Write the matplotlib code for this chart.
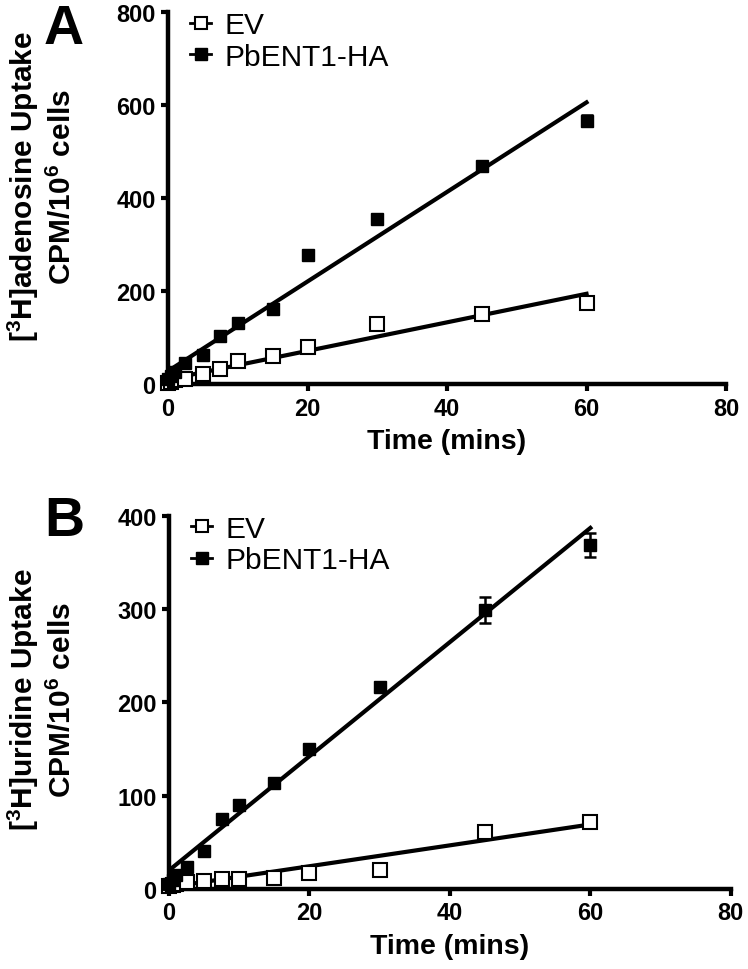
import matplotlib
matplotlib.use("Agg")
import matplotlib.pyplot as plt
from matplotlib.lines import Line2D

plt.rcParams.update({
    "font.family": "Liberation Sans",
    "font.weight": "bold",
    "mathtext.fontset": "custom",
    "mathtext.rm": "Liberation Sans:bold",
    "mathtext.bf": "Liberation Sans:bold",
    "mathtext.default": "rm",
})

# ── data ───────────────────────────────────────────────────────────────────────
time = [0, 0.5, 1, 2.5, 5, 7.5, 10, 15, 20, 30, 45, 60]

# panel A: adenosine uptake (CPM / 10^6 cells)
ado_ev = [3, 5, 8, 12, 21, 32, 49, 61, 80, 129, 150, 174]
ado_ev_err = [0, 0, 0, 0, 0, 0, 0, 0, 0, 0, 3, 4]
ado_pb = [10, 18, 26, 45, 63, 104, 131, 161, 277, 355, 469, 566]
ado_pb_err = [0, 0, 0, 0, 0, 0, 0, 0, 0, 0, 4, 12]
ado_fit_ev = (10, 3.07)     # intercept, slope
ado_fit_pb = (28, 9.63)

# panel B: uridine uptake (CPM / 10^6 cells)
uri_ev = [3, 4, 5, 7.5, 9, 11, 11, 12, 17, 20, 61, 72]
uri_ev_err = [0, 0, 0, 0, 0, 0, 0, 0, 0, 0, 2, 3]
uri_pb = [5, 10, 15, 24, 41, 75, 90, 114, 150, 217, 299, 369]
uri_pb_err = [0, 0, 0, 0, 0, 0, 0, 0, 0, 5, 14, 13]
uri_fit_ev = (2, 1.12)
uri_fit_pb = (20, 6.12)

fit_x = [0, 60]
series_labels = ["EV", "PbENT1-HA"]

fig = plt.figure(figsize=(7.48, 9.70), dpi=100)
axA = fig.add_axes([0.2246, 0.603, 0.746, 0.3835])
axB = fig.add_axes([0.2260, 0.0825, 0.751, 0.3845])


def draw(ax, ev, ev_err, pb, pb_err, fit_ev, fit_pb, ymax, ystep):
    for b, m in (fit_ev, fit_pb):
        ax.plot(fit_x, [b + m * x for x in fit_x], "-", color="k", lw=3, zorder=2)
    ax.errorbar(time, ev, yerr=ev_err, fmt="s", ms=10, mfc="white", mec="k", mew=1.5,
                ecolor="k", elinewidth=1.8, capsize=4, capthick=1.8, zorder=3, clip_on=False)
    ax.errorbar(time, pb, yerr=pb_err, fmt="s", ms=8, mfc="k", mec="k",
                ecolor="k", elinewidth=1.8, capsize=4, capthick=1.8, zorder=4, clip_on=False)
    ax.set_xlim(0, 80)
    ax.set_ylim(0, ymax)
    ax.set_xticks([0, 20, 40, 60, 80])
    ax.set_yticks(range(0, ymax + 1, ystep))
    for s in ("top", "right"):
        ax.spines[s].set_visible(False)
    for s in ("left", "bottom"):
        ax.spines[s].set_linewidth(3.2)
    ax.tick_params(width=3, length=5, labelsize=17, pad=4)
    for lab in ax.get_xticklabels() + ax.get_yticklabels():
        lab.set_fontweight("bold")
    ax.set_xlabel("Time (mins)", fontsize=20.5, fontweight="bold", labelpad=6)
    handles = [Line2D([], [], color="k", lw=2, marker="s", ms=8, mfc="white", mec="k", mew=1.5),
               Line2D([], [], color="k", lw=2, marker="s", ms=8, mfc="k", mec="k")]
    ax.legend(handles, series_labels, loc="upper left", bbox_to_anchor=(-0.008, 1.075),
              frameon=False, handlelength=0.7, handletextpad=0.45, labelspacing=0.12,
              prop={"family": "Liberation Sans", "weight": "normal", "size": 21.5})


draw(axA, ado_ev, ado_ev_err, ado_pb, ado_pb_err, ado_fit_ev, ado_fit_pb, 800, 200)
draw(axB, uri_ev, uri_ev_err, uri_pb, uri_pb_err, uri_fit_ev, uri_fit_pb, 400, 100)

# y labels (two lines each) and panel letters
ylab_size = 21.5
fig.text(23 / 748, 1 - 187 / 970, "[$^3$H]adenosine Uptake", rotation=90,
         ha="center", va="center", fontsize=ylab_size, fontweight="bold")
fig.text(62 / 748, 1 - 187 / 970, "CPM/10$^6$ cells", rotation=90,
         ha="center", va="center", fontsize=ylab_size, fontweight="bold")
fig.text(23 / 748, 1 - 700 / 970, "[$^3$H]uridine Uptake", rotation=90,
         ha="center", va="center", fontsize=ylab_size, fontweight="bold")
fig.text(62 / 748, 1 - 700 / 970, "CPM/10$^6$ cells", rotation=90,
         ha="center", va="center", fontsize=ylab_size, fontweight="bold")
fig.text(64 / 748, 1 - 30 / 970, "A", ha="center", va="center", fontsize=40, fontweight="bold")
fig.text(64 / 748, 1 - 522 / 970, "B", ha="center", va="center", fontsize=40, fontweight="bold")

fig.savefig("out.png", dpi=100)
